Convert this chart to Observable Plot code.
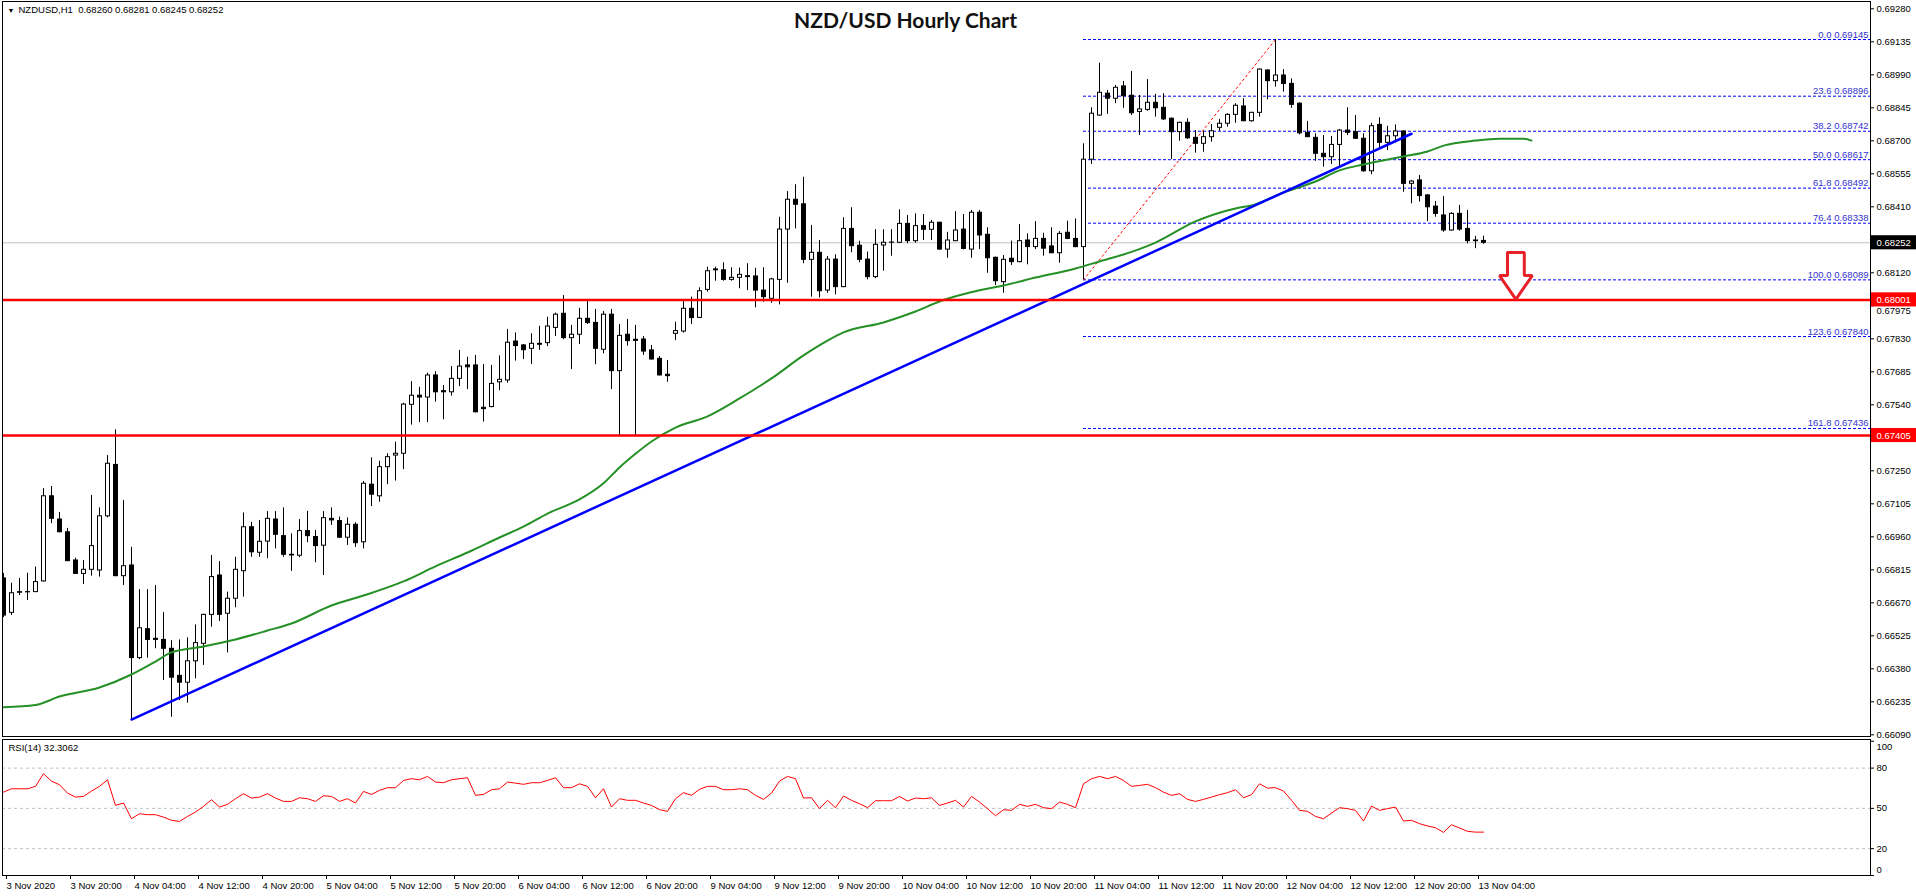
<!DOCTYPE html>
<html><head><meta charset="utf-8">
<script src="https://cdn.jsdelivr.net/npm/d3@7"></script>
<script src="https://cdn.jsdelivr.net/npm/@observablehq/plot@0.6"></script>
<style>
html,body{margin:0;padding:0;background:#fff;}
body{width:1916px;height:896px;overflow:hidden;position:relative;}
#main{position:absolute;left:0;top:0;}
#rsi{position:absolute;left:0;top:737px;}
</style></head><body>
<div id="main"></div><div id="rsi"></div>
<script>
// ---------- data ----------
const chartTitle = "NZD/USD Hourly Chart";
const headerText = "NZDUSD,H1  0.68260 0.68281 0.68245 0.68252";
const rsiTitle = "RSI(14) 32.3062";

const opens = [.66777,.66626,.66714,.66717,.66717,.66764,.67138,.67036,.66980,.66856,.66797,.66815,.66812,.67050,.67276,.66787,.66834,.66427,.66554,.66512,.66507,.66468,.66349,.66319,.66413,.66490,.66617,.66790,.66622,.66688,.66809,.67002,.66890,.66939,.67036,.66963,.66881,.66877,.66985,.66959,.66921,.67039,.67029,.66956,.67013,.66936,.67189,.67138,.67266,.67317,.67325,.67540,.67580,.67572,.67669,.67600,.67595,.67654,.67713,.67713,.67527,.67530,.67639,.67647,.67818,.67801,.67786,.67808,.67811,.67878,.67940,.67833,.67848,.67918,.67900,.67782,.67936,.67688,.67848,.67826,.67827,.67779,.67742,.67672,.67852,.67862,.67962,.67922,.68045,.68135,.68131,.68089,.68098,.68105,.68104,.68042,.68006,.68089,.68310,.68441,.68421,.68177,.68208,.68042,.68178,.68057,.68313,.68239,.68178,.68101,.68240,.68252,.68252,.68335,.68259,.68325,.68309,.68340,.68222,.68259,.68310,.68222,.68384,.68287,.68186,.68079,.68182,.68167,.68262,.68233,.68269,.68236,.68206,.68296,.68269,.68233,.68617,.68811,.68907,.68885,.68939,.68898,.68827,.68836,.68867,.68845,.68797,.68738,.68779,.68713,.68687,.68716,.68757,.68775,.68814,.68851,.68786,.68823,.69009,.68962,.68987,.68950,.68863,.68735,.68713,.68643,.68628,.68682,.68745,.68738,.68709,.68566,.68770,.68691,.68720,.68741,.68511,.68526,.68460,.68411,.68372,.68306,.68379,.68313,.68262,.68260];
const highs = [.66799,.66756,.66777,.66800,.66827,.67172,.67181,.67067,.66997,.66866,.66856,.67142,.67087,.67317,.67430,.67120,.66914,.66728,.66728,.66746,.66627,.66504,.66507,.66516,.66573,.66620,.66878,.66851,.66717,.66870,.67065,.67024,.67032,.67071,.67071,.67087,.66973,.67036,.67072,.66988,.67071,.67087,.67047,.67043,.67022,.67203,.67307,.67292,.67325,.67376,.67547,.67642,.67617,.67679,.67686,.67625,.67708,.67779,.67749,.67757,.67717,.67713,.67755,.67871,.67856,.67805,.67852,.67885,.67925,.67943,.68020,.67889,.67964,.68003,.67959,.67950,.67959,.67893,.67915,.67889,.67840,.67801,.67752,.67735,.67903,.67998,.68013,.68054,.68145,.68145,.68164,.68142,.68141,.68160,.68140,.68142,.68096,.68364,.68477,.68507,.68540,.68328,.68262,.68192,.68199,.68362,.68406,.68259,.68211,.68310,.68309,.68310,.68397,.68372,.68379,.68376,.68350,.68342,.68298,.68389,.68376,.68394,.68394,.68318,.68189,.68196,.68259,.68332,.68291,.68345,.68294,.68318,.68301,.68347,.68357,.68687,.68845,.69041,.68921,.68943,.68961,.69005,.68899,.68969,.68904,.68907,.68800,.68782,.68797,.68745,.68742,.68772,.68794,.68819,.68863,.68885,.68825,.69016,.69012,.69145,.69013,.68972,.68867,.68785,.68731,.68723,.68719,.68750,.68845,.68811,.68731,.68777,.68801,.68764,.68770,.68744,.68526,.68548,.68464,.68433,.68455,.68384,.68416,.68394,.68280,.68281];
const lows = [.66605,.66614,.66702,.66680,.66715,.66761,.67018,.66978,.66851,.66795,.66750,.66787,.66783,.67043,.66785,.66746,.66157,.66420,.66427,.66468,.66329,.66167,.66241,.66229,.66336,.66395,.66563,.66588,.66450,.66648,.66695,.66870,.66870,.66864,.66907,.66870,.66808,.66868,.66934,.66846,.66790,.67010,.66954,.66922,.66913,.66907,.67093,.67112,.67189,.67205,.67255,.67451,.67462,.67462,.67552,.67474,.67578,.67620,.67607,.67505,.67464,.67527,.67602,.67635,.67732,.67739,.67717,.67779,.67796,.67840,.67826,.67695,.67805,.67893,.67716,.67764,.67607,.67405,.67798,.67405,.67757,.67737,.67667,.67639,.67822,.67855,.67893,.67920,.68035,.68083,.68083,.68083,.68050,.68042,.67966,.67991,.67986,.67979,.68074,.68313,.68160,.68013,.68010,.68030,.68023,.68055,.68208,.68164,.68089,.68094,.68127,.68193,.68250,.68248,.68250,.68262,.68262,.68220,.68184,.68257,.68221,.68184,.68222,.68118,.68064,.68030,.68152,.68164,.68155,.68222,.68193,.68204,.68162,.68266,.68230,.68089,.68596,.68808,.68816,.68863,.68843,.68811,.68723,.68830,.68804,.68789,.68618,.68698,.68706,.68646,.68650,.68694,.68742,.68760,.68777,.68784,.68782,.68804,.68880,.68936,.68914,.68843,.68726,.68714,.68610,.68584,.68596,.68584,.68723,.68707,.68562,.68551,.68665,.68657,.68691,.68474,.68423,.68431,.68345,.68364,.68298,.68303,.68303,.68247,.68226,.68245];
const closes = [.66614,.66712,.66717,.66716,.66761,.67138,.67039,.66980,.66853,.66797,.66815,.66919,.67050,.67281,.66787,.66831,.66427,.66558,.66507,.66507,.66468,.66341,.66319,.66413,.66493,.66617,.66783,.66617,.66688,.66815,.67002,.66892,.66938,.67039,.66969,.66881,.66878,.66985,.66963,.66919,.67042,.67032,.66956,.67013,.66932,.67193,.67145,.67266,.67310,.67325,.67541,.67580,.67572,.67669,.67595,.67595,.67654,.67708,.67705,.67507,.67521,.67632,.67650,.67813,.67798,.67780,.67808,.67804,.67884,.67936,.67833,.67848,.67918,.67899,.67786,.67936,.67688,.67843,.67820,.67821,.67774,.67739,.67669,.67666,.67864,.67962,.67921,.68039,.68127,.68131,.68089,.68098,.68111,.68101,.68042,.68013,.68091,.68310,.68441,.68419,.68177,.68208,.68039,.68178,.68057,.68313,.68237,.68177,.68101,.68243,.68252,.68253,.68335,.68259,.68325,.68309,.68340,.68222,.68262,.68306,.68225,.68384,.68284,.68184,.68083,.68177,.68167,.68259,.68233,.68269,.68226,.68206,.68291,.68269,.68233,.68617,.68819,.68911,.68885,.68933,.68896,.68821,.68838,.68867,.68843,.68794,.68738,.68779,.68711,.68687,.68716,.68742,.68775,.68814,.68854,.68786,.68823,.69013,.68962,.68987,.68950,.68858,.68733,.68716,.68643,.68628,.68682,.68745,.68735,.68709,.68566,.68764,.68691,.68720,.68741,.68511,.68521,.68457,.68408,.68379,.68306,.68379,.68310,.68259,.68259,.68252];
const rsiValues = [62.1,64.6,64.6,64.6,66.4,75.8,70.3,67.6,61.4,58.4,58.9,62.9,66.4,71.3,52.2,54.0,42.3,46.0,45.3,45.3,43.5,41.1,40.3,44.0,47.3,51.5,56.4,51.0,53.0,57.2,60.9,57.7,58.4,60.9,57.7,55.2,55.2,57.9,57.2,55.2,59.4,58.9,55.2,57.2,54.0,62.6,60.4,63.4,65.4,65.4,70.8,72.1,71.3,73.8,69.6,69.1,71.3,72.1,72.8,59.7,60.4,63.9,64.6,69.6,68.8,67.9,69.1,69.1,70.8,72.8,65.4,65.4,68.3,66.4,57.9,64.6,51.0,57.2,56.0,56.0,54.0,52.2,49.0,47.8,57.2,61.7,59.7,64.2,66.4,66.4,63.9,63.9,64.6,63.9,59.7,56.7,61.4,70.3,73.8,72.1,57.7,57.9,49.8,56.0,50.5,59.2,56.0,53.5,50.5,55.7,55.7,55.7,58.9,55.5,57.7,57.2,57.9,52.2,54.0,56.0,51.0,58.9,54.7,49.8,44.5,49.0,48.5,53.0,51.5,53.0,50.5,49.8,54.7,53.0,50.5,68.3,72.1,73.8,72.1,73.8,70.8,66.4,67.1,67.9,65.4,62.1,59.7,60.9,56.7,55.2,56.7,58.4,60.2,61.7,63.9,57.9,60.2,68.3,65.1,65.4,62.9,56.0,48.5,47.8,44.0,42.3,46.5,50.5,49.8,48.5,40.6,51.7,48.5,49.8,51.0,40.6,41.1,38.6,36.9,35.6,32.1,37.8,35.4,32.9,32.3,32.3];

// moving average (shifted forward), read at these bars
const maBars = [0,4,7,12,16,19,21,25,29,33,36,41,45,50,54,58,62,65,68,72,75,77,79,81,84,88,92,96,100,103,105,110,114,117,122,125,129,134,137,141,144,149,154,156,160,164,167,170,175,178,180,184,187,190,191];
const maValues = [.66211,.66221,.66258,.66298,.66355,.66412,.66452,.66478,.66509,.66548,.66579,.66658,.66702,.66764,.66830,.66891,.66957,.67005,.67062,.67124,.67195,.67265,.67325,.67379,.67440,.67489,.67568,.67656,.67757,.67822,.67858,.67902,.67950,.67994,.68043,.68064,.68099,.68139,.68170,.68212,.68253,.68346,.68403,.68416,.68473,.68521,.68570,.68596,.68631,.68653,.68679,.68701,.68709,.68709,.68701];

const trendBars = [16, 176];
const trendPrices = [0.66157, 0.68731];
const fibAnchorBars = [135, 159];
const fibAnchorPrices = [0.68089, 0.69145];
const fibLevels = [0.0, 23.6, 38.2, 50.0, 61.8, 76.4, 100.0, 123.6, 161.8];
const fibPrices = [0.69145, 0.68896, 0.68742, 0.68617, 0.68492, 0.68338, 0.68089, 0.67840, 0.67436];
const levelPrices = [0.68001, 0.67405];
const currentPrice = 0.68252;
const priceTickLabels = ["0.69280","0.69135","0.68990","0.68845","0.68700","0.68555","0.68410","0.68265","0.68120","0.67975","0.67830","0.67685","0.67540","0.67395","0.67250","0.67105","0.66960","0.66815","0.66670","0.66525","0.66380","0.66235","0.66090"];
const rsiTickLabels = ["100","80","50","20","0"];
const rsiLevels = [80, 50, 20];
const timeLabels = ["3 Nov 2020","3 Nov 20:00","4 Nov 04:00","4 Nov 12:00","4 Nov 20:00","5 Nov 04:00","5 Nov 12:00","5 Nov 20:00","6 Nov 04:00","6 Nov 12:00","6 Nov 20:00","9 Nov 04:00","9 Nov 12:00","9 Nov 20:00","10 Nov 04:00","10 Nov 12:00","10 Nov 20:00","11 Nov 04:00","11 Nov 12:00","11 Nov 20:00","12 Nov 04:00","12 Nov 12:00","12 Nov 20:00","13 Nov 04:00"];
// sell arrow annotation (bar, price) near the 0.68 support
const arrowBar = 189;
const arrowTop = 0.68209;
const arrowTip = 0.68003;

// ---------- derived ----------
const FONT = "'Liberation Sans', Arial, sans-serif";
const bars = opens.map((o, i) => ({i, o, h: highs[i], l: lows[i], c: closes[i], up: closes[i] >= o}));
const xDomain = [-0.125, 233.375];
const xMax = xDomain[1];
const priceTicks = priceTickLabels.map(Number);
const labelBars = timeLabels.map((_, k) => k * 8);
const fib = fibLevels.map((lv, k) => ({lv, p: fibPrices[k], label: `${lv.toFixed(1)} ${fibPrices[k].toFixed(5)}`}));
const ma = maBars.map((b, k) => ({b, v: maValues[k]}));
const trend = trendBars.map((b, k) => ({b, v: trendPrices[k]}));
const fibLink = fibAnchorBars.map((b, k) => ({b, v: fibAnchorPrices[k]}));
const headBase = arrowTop - (arrowTop - arrowTip) * 0.49;
const arrowPts = [
  [arrowBar - 1.0, arrowTop], [arrowBar + 1.1, arrowTop], [arrowBar + 1.1, headBase],
  [arrowBar + 2.1, headBase], [arrowBar + 0.05, arrowTip], [arrowBar - 2.0, headBase],
  [arrowBar - 1.0, headBase], [arrowBar - 1.0, arrowTop]
];
const boxHalf = 0.00031;
const boxes = [
  {p: currentPrice, fill: "#000"},
  {p: levelPrices[0], fill: "#ff0000"},
  {p: levelPrices[1], fill: "#ff0000"}
];
// tick labels hidden under the value boxes (as in the terminal), one is partly shown below its box
const underBox = d => boxes.some(b => Math.abs(b.p - d) < 0.0002);
const partlyHidden = d => !underBox(d) && boxes.some(b => Math.abs(b.p - d) < 0.0003);
const plainTicks = priceTicks.filter(d => !underBox(d) && !partlyHidden(d));
const nudgedTicks = priceTicks.filter(partlyHidden);

const mainChart = Plot.plot({
  width: 1916, height: 745,
  marginLeft: 2, marginRight: 46, marginTop: 1, marginBottom: 9,
  style: {fontFamily: FONT, fontSize: "9.5px", background: "#fff", color: "#000"},
  x: {domain: xDomain, axis: null},
  y: {domain: [0.660826, 0.693121], axis: null},
  marks: [
    Plot.ruleY([currentPrice], {x1: xDomain[0], x2: xMax, stroke: "#c0c0c0", strokeWidth: 1}),
    Plot.ruleY(fib, {y: "p", x1: fibAnchorBars[0], x2: xMax, stroke: "#0000ff", strokeDasharray: "3,2", strokeWidth: 1}),
    Plot.text(fib, {x: xMax, y: "p", text: "label", textAnchor: "end", lineAnchor: "bottom", dx: -2, dy: -2, fill: "#3333cc", fontSize: 9.5}),
    Plot.line(fibLink, {x: "b", y: "v", stroke: "#ff0000", strokeDasharray: "2,3", strokeWidth: 1}),
    Plot.ruleX(bars, {x: "i", y1: "l", y2: "h", stroke: "#000", strokeWidth: 1, clip: true}),
    Plot.rect(bars, {x1: d => d.i - 0.1875, x2: d => d.i + 0.3125, y1: "o", y2: "c",
      fill: d => d.up ? "#fff" : "#000", stroke: "#000", strokeWidth: 1, clip: true}),
    Plot.line(ma, {x: "b", y: "v", stroke: "#259025", strokeWidth: 2, curve: "monotone-x"}),
    Plot.line(trend, {x: "b", y: "v", stroke: "#0000ff", strokeWidth: 2.5}),
    Plot.ruleY(levelPrices, {x1: xDomain[0], x2: xMax, stroke: "#ff0000", strokeWidth: 2.5}),
    Plot.line(arrowPts, {x: d => d[0], y: d => d[1], stroke: "#e8202a", fill: "#fff", strokeWidth: 3, strokeLinejoin: "miter"}),
    Plot.frame({stroke: "#000"}),
    Plot.ruleY(priceTicks, {y: d => d, x1: xMax, x2: xMax + 0.5, stroke: "#000"}),
    Plot.text(plainTicks, {x: xMax, y: d => d, text: d => d.toFixed(5), dx: 6, textAnchor: "start", fontSize: 9.5}),
    Plot.text(nudgedTicks, {x: xMax, y: d => d, text: d => d.toFixed(5), dx: 6, dy: 5, textAnchor: "start", fontSize: 9.5}),
    Plot.rect(boxes, {x1: xMax + 0.12, x2: xMax + 5.8, y1: d => d.p - boxHalf, y2: d => d.p + boxHalf, fill: "fill"}),
    Plot.text(boxes, {x: xMax, y: "p", text: d => d.p.toFixed(5), dx: 6, textAnchor: "start", fill: "#fff", fontSize: 9.5}),
    Plot.text([chartTitle], {frameAnchor: "top", dx: -31, dy: 12, lineAnchor: "top", fontWeight: "bold", fontSize: 21, fontFamily: "Lato, 'Open Sans', sans-serif", fill: "#111"}),
    Plot.text(["\u25BC"], {frameAnchor: "top-left", dx: 5, dy: 7, lineAnchor: "top", fontSize: 7}),
    Plot.text([headerText], {frameAnchor: "top-left", dx: 16, dy: 5, lineAnchor: "top", fontSize: 9.5})
  ]
});
document.getElementById("main").appendChild(mainChart);

const rsiChart = Plot.plot({
  width: 1916, height: 159,
  marginLeft: 2, marginRight: 46, marginTop: 2, marginBottom: 21,
  style: {fontFamily: FONT, fontSize: "9.5px", background: "transparent", color: "#000"},
  x: {domain: xDomain, axis: null},
  y: {domain: [0, 101.3], axis: null},
  marks: [
    Plot.ruleY(rsiLevels, {x1: xDomain[0], x2: xMax, stroke: "#c0c0c0", strokeDasharray: "3,3"}),
    Plot.line(rsiValues, {x: (d, i) => i, y: d => d, stroke: "#ff0000", strokeWidth: 1}),
    Plot.frame({stroke: "#000"}),
    Plot.ruleY(rsiTickLabels.map(Number), {y: d => d, x1: xMax, x2: xMax + 0.5, stroke: "#000"}),
    Plot.text(rsiTickLabels.map(Number), {x: xMax, y: d => d === 100 ? 96 : d === 0 ? 4.5 : d, text: d => String(d), dx: 6, textAnchor: "start", fontSize: 9.5}),
    Plot.axisX(labelBars, {anchor: "bottom", tickSize: 4, tickPadding: 3, textAnchor: "start", dx: 3,
      tickFormat: d => timeLabels[labelBars.indexOf(d)], fontSize: 9.5, label: null}),
    Plot.text([rsiTitle], {frameAnchor: "top-left", dx: 6, dy: 5, lineAnchor: "top", fontSize: 9.5})
  ]
});
document.getElementById("rsi").appendChild(rsiChart);
</script>
</body></html>
